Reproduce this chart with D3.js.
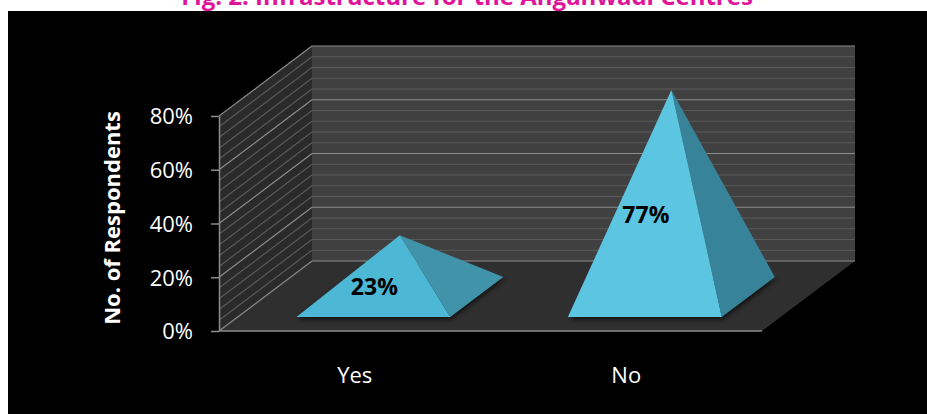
<!DOCTYPE html>
<html>
<head>
<meta charset="utf-8">
<script src="https://cdn.jsdelivr.net/npm/d3@7"></script>
<style>
  html, body { margin: 0; padding: 0; background: #ffffff; }
  svg { display: block; }
</style>
</head>
<body>
<svg id="chart" width="927" height="414"></svg>
<script>
// ---- data ----
const categories = ["Yes", "No"];
const values = [0.23, 0.77];
const valueLabels = ["23%", "77%"];
const tickValues = [0, 0.2, 0.4, 0.6, 0.8];
const titleText = "Fig. 2: Infrastructure for the Anganwadi Centres";
const yAxisTitle = "No. of Respondents";

// ---- layout ----
const W = 927, H = 414;
const frontLeft = 219, frontRight = 762, baseY = 331, topY = 116;
const DX = 93, DY = -70;           // full depth offset
const yMax = 0.8, minorStep = 0.04;
const baseDepth0 = 0.2, baseDepth1 = 0.77, widthFrac = 0.567;
const faceColors = [
  { front: "#4db8d5", side: "#4193aa" },
  { front: "#5bc5e2", side: "#378399" }
];

const svg = d3.select("#chart");

// background
svg.append("rect").attr("x", 0).attr("y", 0).attr("width", W).attr("height", H).attr("fill", "#ffffff");
svg.append("rect").attr("x", 8).attr("y", 11).attr("width", W - 8).attr("height", H - 11).attr("fill", "#000000");

// title (clipped at top, as in the source)
svg.append("text")
  .attr("x", 467).attr("y", 5)
  .attr("text-anchor", "middle")
  .attr("font-family", "'Open Sans', sans-serif")
  .attr("font-weight", "bold")
  .attr("font-size", 24)
  .attr("fill", "#e0139a")
  .text(titleText);

// scales
const y = d3.scaleLinear().domain([0, yMax]).range([baseY, topY]);
const x = d3.scaleBand().domain(categories).range([frontLeft, frontRight]).padding(0);

const P = (px, v, d) => [px + d * DX, y(v) + d * DY];

const defs = svg.append("defs");
const f = defs.append("filter").attr("id", "shadow").attr("x", "-20%").attr("y", "-50%").attr("width", "140%").attr("height", "200%");
f.append("feGaussianBlur").attr("stdDeviation", 2.5);

const walls = svg.append("g");
const poly = pts => pts.map(p => p.join(",")).join(" ");

// back wall
walls.append("polygon")
  .attr("points", poly([P(frontLeft, 0, 1), P(frontRight, 0, 1), P(frontRight, yMax, 1), P(frontLeft, yMax, 1)]))
  .attr("fill", "#404040");
// left wall
walls.append("polygon")
  .attr("points", poly([P(frontLeft, 0, 0), P(frontLeft, 0, 1), P(frontLeft, yMax, 1), P(frontLeft, yMax, 0)]))
  .attr("fill", "#2a2a2a");
// floor
walls.append("polygon")
  .attr("points", poly([P(frontLeft, 0, 0), P(frontRight, 0, 0), P(frontRight, 0, 1), P(frontLeft, 0, 1)]))
  .attr("fill", "#2f2f2f");

// gridlines
const gridVals = d3.range(0, yMax + 1e-9, minorStep);
const isMajor = v => tickValues.some(t => Math.abs(t - v) < 1e-6);
const grid = svg.append("g");
gridVals.forEach(v => {
  const major = isMajor(v);
  const col = major ? "#8c8c8c" : "#5a5a5a";
  const a = P(frontLeft, v, 0), b = P(frontLeft, v, 1), c = P(frontRight, v, 1);
  grid.append("line").attr("x1", a[0]).attr("y1", a[1]).attr("x2", b[0]).attr("y2", b[1])
    .attr("stroke", col).attr("stroke-width", 1.2);
  grid.append("line").attr("x1", b[0]).attr("y1", b[1]).attr("x2", c[0]).attr("y2", c[1])
    .attr("stroke", col).attr("stroke-width", 1.2);
});

// floor front edge
svg.append("line")
  .attr("x1", frontLeft).attr("y1", baseY).attr("x2", frontRight).attr("y2", baseY)
  .attr("stroke", "#8c8c8c").attr("stroke-width", 1.5);

// y axis
const yAxis = d3.axisLeft(y).tickValues(tickValues).tickFormat(d3.format(".0%")).tickSize(8).tickPadding(18).tickSizeOuter(0);
const gy = svg.append("g").attr("transform", `translate(${frontLeft},0)`).call(yAxis);
gy.select(".domain").attr("stroke", "#8c8c8c").attr("stroke-width", 1.5);
gy.selectAll(".tick line").attr("stroke", "#8c8c8c").attr("stroke-width", 1.5);
gy.selectAll(".tick text")
  .attr("fill", "#ffffff")
  .attr("font-family", "'Open Sans', sans-serif")
  .attr("font-size", 22)
  .attr("dy", "0.36em");

// x axis labels
const xAxis = d3.axisBottom(x).tickSize(0).tickPadding(36);
const gx = svg.append("g").attr("transform", `translate(0,${baseY})`).call(xAxis);
gx.select(".domain").remove();
gx.selectAll(".tick text")
  .attr("fill", "#ffffff")
  .attr("font-family", "'Open Sans', sans-serif")
  .attr("font-size", 22);

// y axis title
svg.append("text")
  .attr("transform", `translate(120,218) rotate(-90)`)
  .attr("text-anchor", "middle")
  .attr("font-family", "'Open Sans', sans-serif")
  .attr("font-weight", "bold")
  .attr("font-size", 22)
  .attr("fill", "#ffffff")
  .text(yAxisTitle);

// pyramids
const pyr = svg.append("g");
categories.forEach((cat, i) => {
  const cx = x(cat) + x.bandwidth() / 2;
  const hw = x.bandwidth() * widthFrac / 2;
  const dMid = (baseDepth0 + baseDepth1) / 2;
  const fl = P(cx - hw, 0, baseDepth0);
  const fr = P(cx + hw, 0, baseDepth0);
  const br = P(cx + hw, 0, baseDepth1);
  const bl = P(cx - hw, 0, baseDepth1);
  const apex = P(cx, values[i], dMid);

  // shadow
  pyr.append("polygon")
    .attr("points", poly([fl, fr, br, bl].map(p => [p[0] + 1, p[1] + 2])))
    .attr("fill", "#000000").attr("opacity", 0.7).attr("filter", "url(#shadow)");
  // right face
  pyr.append("polygon").attr("points", poly([fr, br, apex])).attr("fill", faceColors[i].side);
  // front face
  pyr.append("polygon").attr("points", poly([fl, fr, apex])).attr("fill", faceColors[i].front);

  // label
  const lx = P(cx, 0, baseDepth0)[0] + 1;
  const midY = (apex[1] + fl[1]) / 2 + 19;
  pyr.append("text")
    .attr("x", lx).attr("y", midY)
    .attr("text-anchor", "middle")
    .attr("font-family", "'Open Sans', sans-serif")
    .attr("font-weight", "bold")
    .attr("font-size", 23)
    .attr("fill", "#000000")
    .text(valueLabels[i]);
});
</script>
</body>
</html>
